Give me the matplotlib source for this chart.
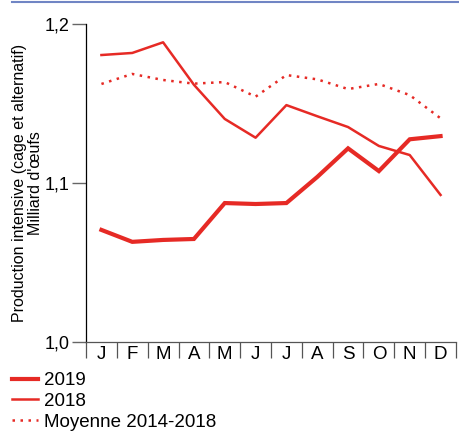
import numpy as np
import matplotlib.pyplot as plt
from matplotlib.lines import Line2D

plt.rcParams['font.family'] = ['Liberation Sans', 'DejaVu Sans']

# Données mensuelles (milliard d'oeufs)
mois = ['J', 'F', 'M', 'A', 'M', 'J', 'J', 'A', 'S', 'O', 'N', 'D']
prod_2019 = [1.0705, 1.0630, 1.0642, 1.0648, 1.0874, 1.0868, 1.0874, 1.1038, 1.1218, 1.1075, 1.1275, 1.1295]
prod_2018 = [1.1805, 1.1818, 1.1885, 1.1618, 1.1403, 1.1285, 1.1490, 1.1420, 1.1352, 1.1233, 1.1176, 1.0925]
moy_2014_2018 = [1.1623, 1.1686, 1.1648, 1.1625, 1.1635, 1.1543, 1.1679, 1.1652, 1.1591, 1.1623, 1.1553, 1.1407]

rouge = '#e62a25'
x = np.arange(1, len(mois) + 1)

fig = plt.figure(figsize=(4.59, 4.32), dpi=100)
ax = fig.add_axes([0.1874, 0.2083, 0.806, 0.7361])

ax.plot(x, prod_2019, color=rouge, lw=3.0, solid_joinstyle='miter')
ax.plot(x, prod_2018, color=rouge, lw=1.8)
ax.plot(x, moy_2014_2018, color=rouge, lw=1.8, linestyle=(0, (1, 2.2)))

ax.set_xlim(0.5, 12.5)
ax.set_ylim(1.0, 1.2)

ax.spines['top'].set_visible(False)
ax.spines['right'].set_visible(False)
ax.spines['left'].set_linewidth(0.9)
ax.spines['bottom'].set_linewidth(0.9)
ax.spines['bottom'].set_color('#555555')

ax.set_yticks([1.0, 1.1, 1.2])
ax.set_yticklabels(['1,0', '1,1', '1,2'], fontsize=13)
ax.tick_params(axis='y', direction='out', length=10, width=1, color='#666666', pad=2)

ax.set_xticks(x)
ax.set_xticklabels(mois, fontsize=13.5)
ax.set_xticks(np.arange(0.5, 13, 1), minor=True)
ax.tick_params(axis='x', which='major', length=0, pad=3)
ax.tick_params(axis='x', which='minor', direction='out', length=11.5, width=0.9, color='#555555')

ax.set_ylabel("Production intensive (cage et alternatif)\nMilliard d'œufs",
              fontsize=11.5, linespacing=1.05, labelpad=1)

# Filet bleu en haut
fig.add_artist(Line2D([12 / 459, 1.0], [1 - 2 / 432, 1 - 2 / 432],
                      color='#7085c4', lw=1.5))

handles = [
    Line2D([], [], color=rouge, lw=3.0),
    Line2D([], [], color=rouge, lw=1.8),
    Line2D([], [], color=rouge, lw=1.8, linestyle=(0, (1, 2.2))),
]
fig.legend(handles, ['2019', '2018', 'Moyenne 2014-2018'],
           loc='upper left', bbox_to_anchor=(12 / 459, 1 - 372 / 432),
           frameon=False, fontsize=13.5, handlelength=1.4, handletextpad=0.3,
           labelspacing=0.2, borderpad=0, borderaxespad=0)

fig.savefig('out.png', dpi=100)
